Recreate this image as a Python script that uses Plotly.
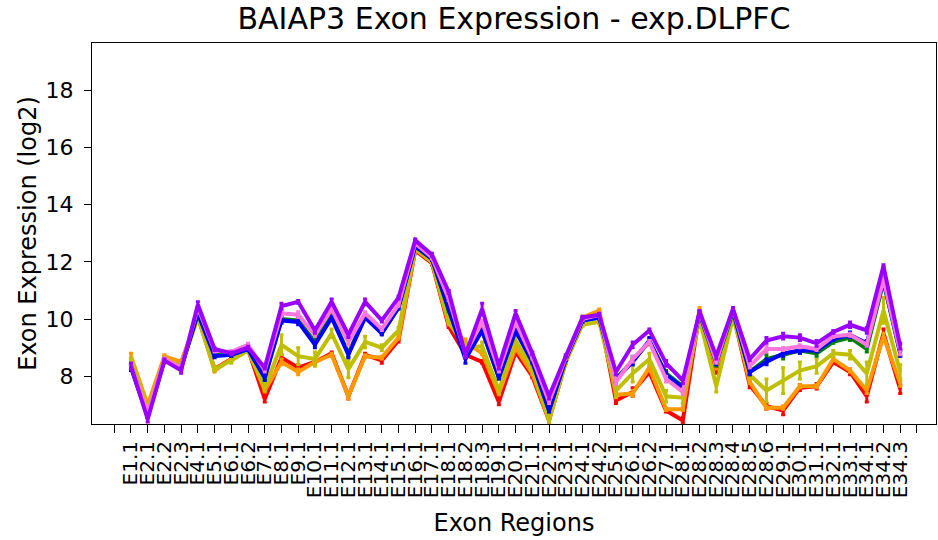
import plotly.graph_objects as go

# Exon region labels along the gene
exons = ["E1.1", "E2.1", "E2.2", "E2.3", "E4.1", "E5.1", "E6.1", "E6.2", "E7.1", "E8.1",
         "E9.1", "E10.1", "E11.1", "E12.1", "E13.1", "E14.1", "E15.1", "E16.1", "E17.1", "E18.1",
         "E18.2", "E18.3", "E19.1", "E20.1", "E21.1", "E22.1", "E23.1", "E24.1", "E24.2", "E25.1",
         "E26.1", "E26.2", "E27.1", "E28.1", "E28.2", "E28.3", "E28.4", "E28.5", "E28.6", "E29.1",
         "E30.1", "E31.1", "E32.1", "E33.1", "E34.1", "E34.2", "E34.3"]

# Mean log2 expression per exon for each group
red = [8.5, 6.9, 8.6, 8.45, 10.1, 8.25, 8.6, 8.95, 7.2, 8.65,
       8.3, 8.5, 8.8, 7.3, 8.75, 8.55, 9.25, 12.4, 11.95, 9.75,
       8.75, 8.5, 7.1, 8.85, 8.0, 6.45, 8.5, 10.0, 10.2, 7.15,
       7.45, 8.15, 6.8, 6.45, 10.2, 8.2, 10.2, 7.7, 6.95, 6.8,
       7.6, 7.65, 8.5, 8.15, 7.3, 9.5, 7.55]
orange = [8.7, 7.0, 8.7, 8.5, 10.1, 8.2, 8.6, 8.95, 7.5, 8.5,
          8.15, 8.5, 8.75, 7.3, 8.7, 8.65, 9.35, 12.45, 12.0, 9.85,
          9.2, 8.8, 7.4, 9.0, 8.1, 6.5, 8.55, 10.05, 10.3, 7.35,
          7.4, 8.3, 6.85, 6.85, 10.35, 8.3, 10.25, 7.8, 6.9, 6.9,
          7.65, 7.65, 8.6, 8.2, 7.5, 9.4, 7.75]
olive = [8.6, 6.8, 8.6, 8.35, 10.05, 8.25, 8.55, 8.9, 7.6, 9.1,
         8.7, 8.6, 9.5, 8.25, 9.2, 9.0, 9.6, 12.45, 12.0, 9.9,
         9.0, 9.05, 7.5, 9.25, 8.25, 6.45, 8.5, 9.8, 9.9, 7.5,
         8.1, 8.6, 7.3, 7.25, 10.0, 7.65, 10.05, 8.05, 7.5, 7.85,
         8.2, 8.35, 8.8, 8.75, 8.1, 10.3, 8.15]
green = [8.4, 6.6, 8.55, 8.3, 10.2, 8.75, 8.75, 8.95, 7.95, 10.0,
         9.95, 9.2, 10.1, 8.8, 10.1, 9.5, 10.4, 12.55, 12.1, 10.3,
         8.8, 9.6, 7.95, 9.6, 8.5, 6.8, 8.6, 9.95, 10.05, 7.9,
         8.55, 9.2, 8.1, 7.65, 10.2, 8.45, 10.25, 8.15, 8.6, 8.75,
         8.9, 8.8, 9.2, 9.35, 8.95, 11.3, 8.8]
blue = [8.3, 6.6, 8.55, 8.3, 10.2, 8.7, 8.75, 8.95, 7.95, 9.95,
        9.9, 9.1, 10.05, 8.75, 10.05, 9.5, 10.4, 12.55, 12.1, 10.4,
        8.6, 9.6, 7.95, 9.6, 8.5, 6.8, 8.6, 9.95, 10.05, 7.9,
        8.5, 9.25, 8.05, 7.6, 10.2, 8.5, 10.3, 8.15, 8.5, 8.8,
        8.9, 8.9, 9.3, 9.45, 9.15, 11.35, 8.8]
pink = [8.4, 6.7, 8.6, 8.3, 10.4, 8.9, 8.85, 9.1, 8.2, 10.2,
        10.15, 9.45, 10.35, 9.2, 10.2, 9.65, 10.5, 12.65, 12.15, 10.7,
        8.8, 9.9, 8.2, 9.9, 8.65, 7.1, 8.65, 10.0, 10.15, 7.8,
        8.6, 9.2, 7.9, 7.45, 10.25, 8.5, 10.35, 8.35, 8.95, 8.95,
        9.05, 8.95, 9.4, 9.45, 9.1, 11.4, 8.85]
purple = [8.35, 6.5, 8.55, 8.2, 10.5, 8.95, 8.8, 9.0, 8.3, 10.45,
          10.6, 9.6, 10.6, 9.45, 10.6, 9.95, 10.75, 12.75, 12.25, 10.95,
          8.75, 10.35, 8.35, 10.2, 8.8, 7.3, 8.7, 10.05, 10.15, 8.15,
          9.1, 9.6, 8.45, 7.85, 10.25, 8.7, 10.35, 8.6, 9.25, 9.4,
          9.35, 9.15, 9.55, 9.8, 9.6, 11.85, 9.05]

# Standard errors per group
red_err = [0.1, 0.1, 0.05, 0.05, 0.05, 0.05, 0.05, 0.05, 0.1, 0.1,
           0.1, 0.05, 0.05, 0.1, 0.05, 0.1, 0.05, 0.05, 0.05, 0.05,
           0.1, 0.05, 0.1, 0.05, 0.05, 0.05, 0.05, 0.05, 0.05, 0.1,
           0.15, 0.1, 0.05, 0.1, 0.05, 0.1, 0.05, 0.1, 0.1, 0.15,
           0.1, 0.1, 0.05, 0.1, 0.2, 0.15, 0.15]
orange_err = [0.1, 0.05, 0.05, 0.05, 0.05, 0.05, 0.05, 0.05, 0.05, 0.1,
              0.1, 0.05, 0.05, 0.1, 0.05, 0.05, 0.05, 0.05, 0.05, 0.05,
              0.1, 0.05, 0.05, 0.05, 0.05, 0.05, 0.05, 0.05, 0.05, 0.1,
              0.1, 0.05, 0.05, 0.05, 0.05, 0.05, 0.05, 0.05, 0.05, 0.05,
              0.05, 0.05, 0.05, 0.05, 0.1, 0.1, 0.1]
olive_err = [0.05, 0.05, 0.05, 0.05, 0.05, 0.05, 0.1, 0.05, 0.1, 0.35,
             0.3, 0.25, 0.15, 0.3, 0.2, 0.1, 0.1, 0.05, 0.05, 0.05,
             0.15, 0.15, 0.1, 0.1, 0.05, 0.05, 0.05, 0.05, 0.05, 0.2,
             0.3, 0.2, 0.2, 0.2, 0.05, 0.2, 0.05, 0.1, 0.4, 0.45,
             0.3, 0.25, 0.1, 0.15, 0.4, 0.45, 0.25]
green_err = [0.05, 0.05, 0.05, 0.05, 0.05, 0.05, 0.05, 0.05, 0.05, 0.1,
             0.1, 0.1, 0.05, 0.1, 0.05, 0.05, 0.05, 0.05, 0.05, 0.05,
             0.1, 0.05, 0.05, 0.05, 0.05, 0.05, 0.05, 0.05, 0.05, 0.1,
             0.15, 0.1, 0.1, 0.1, 0.05, 0.1, 0.05, 0.1, 0.15, 0.15,
             0.1, 0.1, 0.05, 0.1, 0.1, 0.1, 0.1]
blue_err = [0.1, 0.05, 0.05, 0.05, 0.05, 0.05, 0.05, 0.05, 0.1, 0.1,
            0.1, 0.1, 0.05, 0.1, 0.05, 0.05, 0.05, 0.05, 0.05, 0.05,
            0.15, 0.05, 0.05, 0.05, 0.05, 0.05, 0.05, 0.05, 0.05, 0.1,
            0.1, 0.1, 0.1, 0.1, 0.05, 0.1, 0.05, 0.1, 0.1, 0.1,
            0.1, 0.05, 0.05, 0.1, 0.1, 0.1, 0.1]
pink_err = [0.05, 0.05, 0.05, 0.05, 0.05, 0.05, 0.05, 0.05, 0.05, 0.1,
            0.1, 0.05, 0.05, 0.1, 0.05, 0.05, 0.05, 0.05, 0.05, 0.05,
            0.1, 0.05, 0.05, 0.05, 0.05, 0.05, 0.05, 0.05, 0.05, 0.1,
            0.1, 0.05, 0.1, 0.1, 0.05, 0.05, 0.05, 0.05, 0.1, 0.05,
            0.05, 0.05, 0.05, 0.05, 0.05, 0.1, 0.1]
purple_err = [0.1, 0.1, 0.05, 0.1, 0.1, 0.05, 0.05, 0.05, 0.05, 0.1,
              0.05, 0.1, 0.1, 0.1, 0.1, 0.05, 0.05, 0.05, 0.05, 0.05,
              0.1, 0.2, 0.1, 0.1, 0.05, 0.1, 0.05, 0.05, 0.05, 0.1,
              0.1, 0.05, 0.1, 0.1, 0.05, 0.1, 0.05, 0.05, 0.1, 0.1,
              0.1, 0.1, 0.05, 0.1, 0.1, 0.05, 0.1]

groups = [
    ("red", red, red_err, "#ff0000"),
    ("orange", orange, orange_err, "#ff9900"),
    ("olive", olive, olive_err, "#bfbf00"),
    ("green", green, green_err, "#008000"),
    ("blue", blue, blue_err, "#0000ff"),
    ("pink", pink, pink_err, "#ff77dd"),
    ("purple", purple, purple_err, "#9900ff"),
]

positions = list(range(1, len(exons) + 1))

fig = go.Figure()
for name, vals, errs, col in groups:
    fig.add_trace(go.Scatter(
        x=positions, y=vals, name=name, mode="lines",
        line=dict(color=col, width=4),
        error_y=dict(type="data", array=errs, visible=True,
                     color=col, thickness=3, width=2),
        showlegend=False,
    ))

font_family = "DejaVu Sans, Verdana, sans-serif"

fig.update_layout(
    width=938, height=540,
    margin=dict(l=92, r=2, t=43, b=116),
    paper_bgcolor="white", plot_bgcolor="white",
    font=dict(family=font_family, color="black"),
    title=dict(text="BAIAP3 Exon Expression - exp.DLPFC",
               x=0.548, xanchor="center", y=0.966, yanchor="middle",
               font=dict(size=30, family=font_family, color="black")),
)

fig.update_xaxes(
    range=[-1.33, 49.14],
    tickmode="array",
    tickvals=list(range(0, len(exons) + 2)),
    ticktext=[""] + exons + [""],
    tickangle=-90,
    tickfont=dict(size=20),
    ticks="outside", ticklen=8, tickwidth=1, tickcolor="black",
    showline=True, linecolor="black", linewidth=1, mirror=True,
    showgrid=False, zeroline=False,
    title=dict(text="Exon Regions", font=dict(size=24), standoff=17),
)

fig.update_yaxes(
    range=[6.33, 19.65],
    tickmode="array",
    tickvals=[8, 10, 12, 14, 16, 18],
    tickfont=dict(size=22),
    ticks="outside", ticklen=7, tickwidth=1, tickcolor="black",
    ticklabelstandoff=6,
    showline=True, linecolor="black", linewidth=1, mirror=True,
    showgrid=False, zeroline=False,
    title=dict(text="Exon Expression (log2)", font=dict(size=24), standoff=2),
)

fig.write_html("out.html")
